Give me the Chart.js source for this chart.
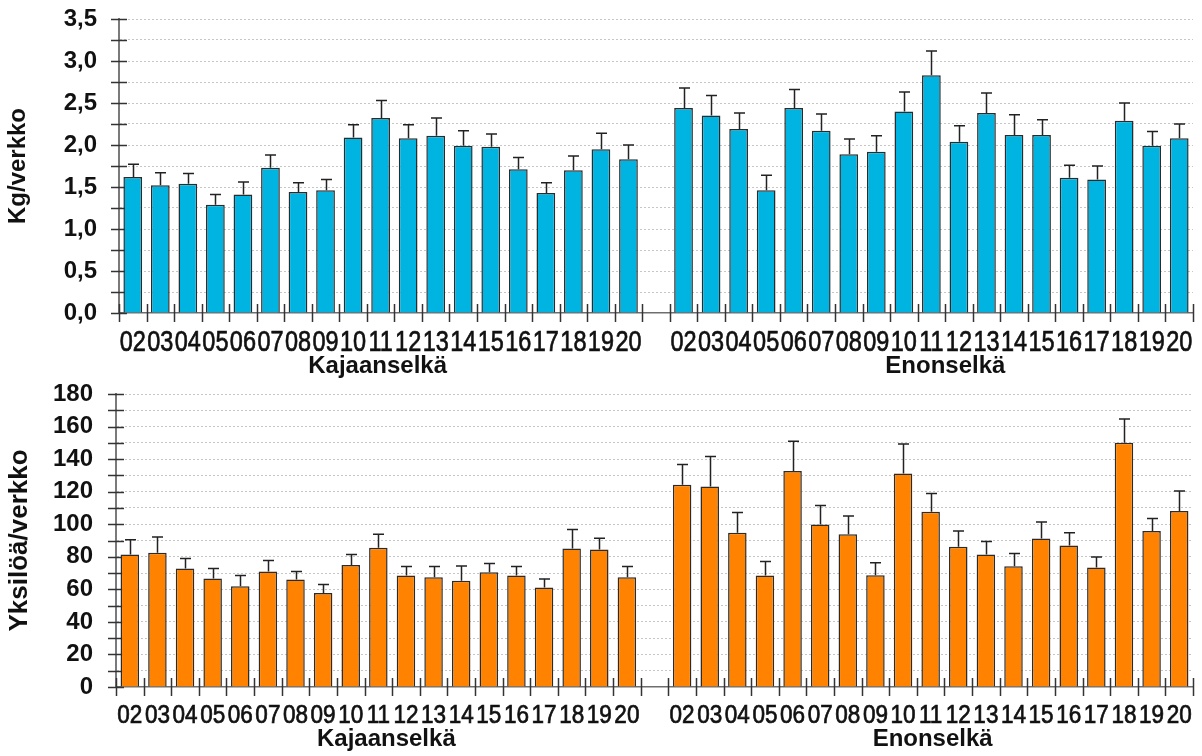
<!DOCTYPE html>
<html><head><meta charset="utf-8">
<script src="https://cdn.jsdelivr.net/npm/chart.js@4.4.1/dist/chart.umd.min.js"></script>
<style>
html,body{margin:0;padding:0;background:#fff;}
#wrap{position:relative;width:1202px;height:756px;overflow:hidden;background:#fff;}
canvas{position:absolute;left:0;}
#c1{top:0}
#c2{top:378px}
</style></head><body>
<div id="wrap"><canvas id="c1" width="1202" height="378"></canvas><canvas id="c2" width="1202" height="378"></canvas></div>
<script>
// ---- data ----
const years = ['02','03','04','05','06','07','08','09','10','11','12','13','14','15','16','17','18','19','20'];
const groupNames = ['Kajaanselkä', 'Enonselkä'];

const kgKajaanselka      = [1.62,1.52,1.54,1.29,1.41,1.73,1.44,1.46,2.09,2.32,2.08,2.11,1.99,1.98,1.71,1.43,1.70,1.95,1.83];
const kgKajaanselkaUpper = [1.77,1.67,1.66,1.41,1.56,1.88,1.55,1.59,2.24,2.53,2.24,2.32,2.17,2.13,1.85,1.55,1.87,2.14,2.00];
const kgEnonselka        = [2.44,2.35,2.19,1.46,2.44,2.17,1.89,1.92,2.40,2.83,2.04,2.38,2.12,2.12,1.61,1.59,2.29,1.99,2.08];
const kgEnonselkaUpper   = [2.68,2.59,2.38,1.64,2.66,2.37,2.07,2.11,2.63,3.12,2.23,2.62,2.36,2.30,1.76,1.75,2.50,2.16,2.25];

const nKajaanselka       = [81.4,82.4,72.8,66.6,61.9,70.9,66.0,57.8,75.0,85.5,68.5,67.5,65.2,70.5,68.5,61.1,85.1,84.4,67.5];
const nKajaanselkaUpper  = [90.4,92.1,78.9,72.8,68.5,77.7,70.9,62.9,81.4,93.9,74.0,74.0,74.4,75.8,74.0,66.4,96.7,91.4,74.0];
const nEnonselka         = [124.2,123.2,94.7,68.5,132.7,99.8,93.9,68.7,131.2,107.6,86.1,81.4,74.2,91.2,86.9,73.4,150.1,95.9,108.1];
const nEnonselkaUpper    = [136.7,141.6,107.2,77.1,150.9,111.5,105.0,76.3,149.3,118.9,95.8,89.4,82.0,101.3,94.7,79.8,164.6,103.5,120.4];

const kgTitle = 'Kg/verkko';
const nTitle = 'Yksilöä/verkko';

// combined category axis: group 1, one empty slot, group 2
const labels = [...years, '', ...years];
const join = (a, b) => [...a, null, ...b];

function errorBarPlugin(upper) {
  return {
    id: 'errorBars',
    afterDatasetsDraw(chart) {
      const ctx = chart.ctx, y = chart.scales.y;
      const meta = chart.getDatasetMeta(0);
      ctx.save();
      ctx.strokeStyle = '#222';
      ctx.lineWidth = 1.5;
      meta.data.forEach((bar, i) => {
        const u = upper[i];
        if (u == null || chart.data.datasets[0].data[i] == null) return;
        const yt = y.getPixelForValue(u);
        const cx = Math.round(bar.x) + 0.5;
        ctx.beginPath();
        ctx.moveTo(cx, bar.y);
        ctx.lineTo(cx, yt);
        ctx.moveTo(cx - 5.5, yt);
        ctx.lineTo(cx + 5.5, yt);
        ctx.stroke();
      });
      ctx.restore();
    }
  };
}

function axisMarksPlugin() {
  return {
    id: 'axisMarks',
    beforeDatasetsDraw(chart) {
      const ctx = chart.ctx, x = chart.scales.x, y = chart.scales.y;
      ctx.save();
      ctx.strokeStyle = '#333';
      ctx.lineWidth = 1.5;
      y.ticks.forEach(t => {
        const py = Math.round(y.getPixelForValue(t.value)) + 0.5;
        ctx.beginPath();
        ctx.moveTo(x.left - 8, py);
        ctx.lineTo(x.left + 8, py);
        ctx.stroke();
      });
      const n = chart.data.labels.length;
      for (let i = 0; i <= n; i++) {
        const px = Math.round(x.left + (x.right - x.left) * i / n) + 0.5;
        ctx.beginPath();
        ctx.moveTo(px, y.bottom - 9);
        ctx.lineTo(px, y.bottom + 9);
        ctx.stroke();
      }
      ctx.restore();
    }
  };
}

// category labels drawn in a condensed style (narrow font is not installed)
function xLabelPlugin(fontPx, scaleX, baselineOffset) {
  return {
    id: 'xLabels',
    afterDraw(chart) {
      const ctx = chart.ctx, x = chart.scales.x;
      ctx.save();
      ctx.font = fontPx + "px 'Liberation Sans', Arial, sans-serif";
      ctx.fillStyle = '#111';
      ctx.strokeStyle = '#111';
      ctx.lineWidth = 0.7;
      ctx.textAlign = 'center';
      ctx.textBaseline = 'alphabetic';
      chart.data.labels.forEach((lab, i) => {
        if (!lab) return;
        ctx.save();
        ctx.translate(x.getPixelForValue(i), chart.chartArea.bottom + baselineOffset);
        ctx.scale(scaleX, 1);
        ctx.fillText(lab, 0, 0);
        ctx.strokeText(lab, 0, 0);
        ctx.restore();
      });
      ctx.restore();
    }
  };
}

function groupLabelPlugin(font, baselineOffset, shifts) {
  return {
    id: 'groupLabels',
    afterDraw(chart) {
      const ctx = chart.ctx, x = chart.scales.x;
      const n = years.length;
      const groups = [[0, n - 1], [n + 1, 2 * n]];
      ctx.save();
      ctx.font = font;
      ctx.fillStyle = '#111';
      ctx.textAlign = 'center';
      ctx.textBaseline = 'alphabetic';
      groups.forEach((g, k) => {
        const cx = (x.getPixelForValue(g[0]) + x.getPixelForValue(g[1])) / 2 + shifts[k];
        ctx.fillText(groupNames[k], cx, chart.chartArea.bottom + baselineOffset);
      });
      ctx.restore();
    }
  };
}

function makeChart(canvas, o) {
  return new Chart(canvas, {
    type: 'bar',
    data: {
      labels: labels,
      datasets: [{
        data: o.values,
        backgroundColor: o.color,
        borderColor: '#2b2b2b',
        borderWidth: 1.5,
        borderSkipped: 'bottom',
        barPercentage: o.barPct,
        categoryPercentage: 1.0
      }]
    },
    options: {
      responsive: false,
      animation: false,
      devicePixelRatio: 1,
      layout: { padding: o.padding },
      plugins: { legend: { display: false }, tooltip: { enabled: false } },
      scales: {
        x: {
          offset: true,
          grid: { drawOnChartArea: false, drawTicks: false },
          border: { display: true, color: '#6e6e6e', width: 1.5 },
          ticks: { display: false, autoSkip: false, maxRotation: 0, minRotation: 0 },
          afterFit(s) { s.height = o.xHeight; }
        },
        y: {
          min: 0, max: o.max,
          grid: {
            drawTicks: true,
            tickLength: o.yTickPad,
            tickColor: 'rgba(0,0,0,0)',
            color: c => (c.tick && c.tick.value === 0) ? 'rgba(0,0,0,0)' : '#c6c6c6',
            lineWidth: 1
          },
          border: { display: true, color: '#7a7a7a', width: 2, dash: [2, 2] },
          ticks: {
            stepSize: o.step,
            autoSkip: false,
            maxTicksLimit: 1000,
            padding: 0,
            color: '#111',
            font: { family: "'Liberation Sans', Arial, sans-serif", size: o.yFont, weight: 'bold' },
            callback: v => {
              const r = v / o.labelStep;
              if (Math.abs(r - Math.round(r)) > 1e-6) return '';
              return o.decimals ? v.toFixed(o.decimals).replace('.', ',') : String(Math.round(v));
            }
          },
          title: {
            display: true, text: o.title, color: '#111',
            font: { family: "'Liberation Sans', Arial, sans-serif", size: o.titleFont, weight: 'bold' },
            padding: { top: 4, bottom: 0 }
          },
          afterFit(s) { s.width = o.yWidth; }
        }
      }
    },
    plugins: [
      axisMarksPlugin(),
      errorBarPlugin(o.upper),
      xLabelPlugin(o.xFont, o.xScale, o.xBaseline),
      groupLabelPlugin(o.groupFont, o.groupBaseline, o.groupShift)
    ]
  });
}

makeChart(document.getElementById('c1'), {
  values: join(kgKajaanselka, kgEnonselka),
  upper: join(kgKajaanselkaUpper, kgEnonselkaUpper),
  color: '#00B4E1',
  max: 3.5, step: 0.25, labelStep: 0.5, decimals: 1,
  title: kgTitle, titleFont: 24,
  yFont: 24, yTickPad: 22,
  xFont: 29, xScale: 0.81, xBaseline: 38,
  barPct: 0.68,
  padding: { left: 0, right: 9, top: 19, bottom: 0 },
  yWidth: 119, xHeight: 65,
  groupFont: "bold 24px 'Liberation Sans', Arial, sans-serif", groupBaseline: 60, groupShift: [-3, 14]
});

makeChart(document.getElementById('c2'), {
  values: join(nKajaanselka, nEnonselka),
  upper: join(nKajaanselkaUpper, nEnonselkaUpper),
  color: '#FF8200',
  max: 180, step: 10, labelStep: 20, decimals: 0,
  title: nTitle, titleFont: 26,
  yFont: 24, yTickPad: 23,
  xFont: 25, xScale: 0.9, xBaseline: 36,
  barPct: 0.67,
  padding: { left: 0, right: 9, top: 16, bottom: 0 },
  yWidth: 116, xHeight: 69,
  groupFont: "bold 24px 'Liberation Sans', Arial, sans-serif", groupBaseline: 59, groupShift: [8, 2]
});
</script>
</body></html>
